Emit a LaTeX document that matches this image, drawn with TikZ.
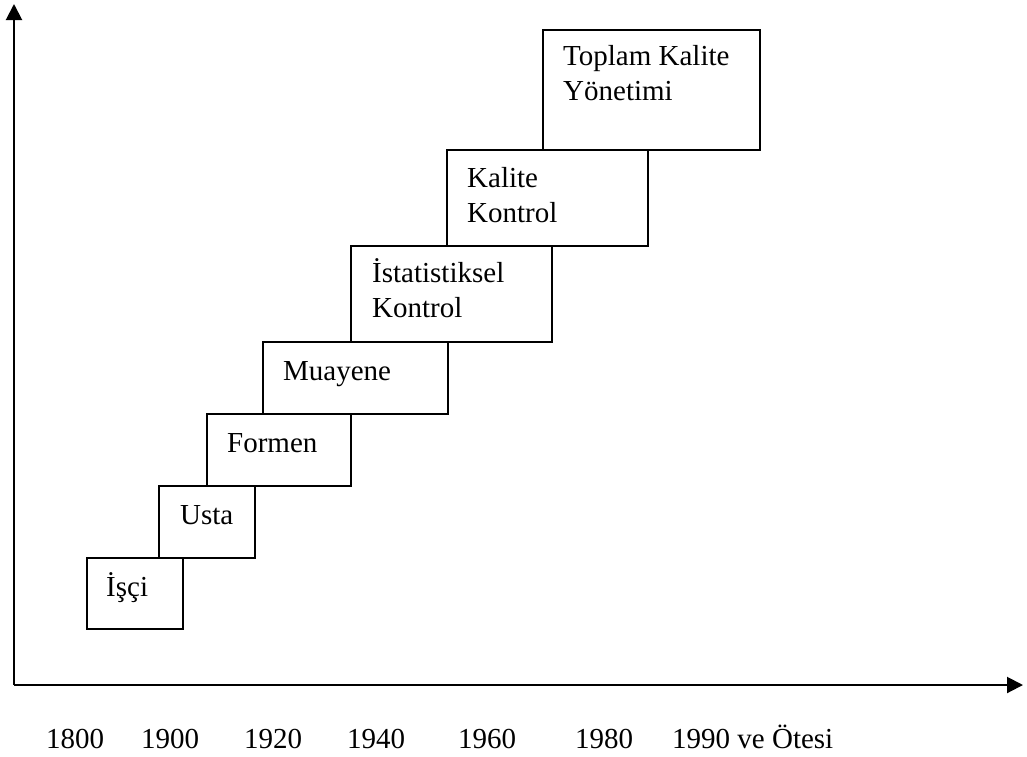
\documentclass[tikz,border=0pt]{standalone}
\usepackage{fontspec}
\setmainfont{Liberation Serif}
\usetikzlibrary{arrows.meta}
\begin{document}
\begin{tikzpicture}[x=1pt,y=-1pt,
  box/.style={draw, line width=2pt, rectangle, anchor=north west, inner sep=0pt},
  lbl/.style={anchor=base west, inner sep=0pt, align=left,
              font=\fontsize{29}{35}\selectfont},
  axis/.style={line width=2pt, -{Triangle[length=16pt,width=16pt]}}]
\useasboundingbox (0,0) rectangle (1027,756);

% axes
\coordinate (O) at (14,685);
\coordinate (ytop) at (14,4);
\coordinate (xend) at (1023,685);
\draw[axis] (O) -- (ytop);
\draw[axis] (O) -- (xend);

% stair of boxes
\node[box, minimum width=96pt,  minimum height=71pt]  (b1) at (86,557)  {};
\node[box, minimum width=96pt,  minimum height=72pt]  (b2) at (158,485) {};
\node[box, minimum width=144pt, minimum height=72pt]  (b3) at (206,413) {};
\node[box, minimum width=185pt, minimum height=72pt]  (b4) at (262,341) {};
\node[box, minimum width=201pt, minimum height=96pt]  (b5) at (350,245) {};
\node[box, minimum width=201pt, minimum height=96pt]  (b6) at (446,149) {};
\node[box, minimum width=217pt, minimum height=120pt] (b7) at (542,29)  {};

% box texts (base anchor of a two-line text sits on its last line)
\node[lbl] (t1) at (106,596) {İşçi};
\node[lbl] (t2) at (180,524) {Usta};
\node[lbl] (t3) at (227,452) {Formen};
\node[lbl] (t4) at (283,380) {Muayene};
\node[lbl] (t5) at (372,317) {İstatistiksel\\Kontrol};
\node[lbl] (t6) at (467,222) {Kalite\\Kontrol};
\node[lbl] (t7) at (563,100) {Toplam Kalite\\Yönetimi};

% time labels
\node[lbl] (y1) at (46,748)  {1800};
\node[lbl] (y2) at (141,748) {1900};
\node[lbl] (y3) at (244,748) {1920};
\node[lbl] (y4) at (347,748) {1940};
\node[lbl] (y5) at (458,748) {1960};
\node[lbl] (y6) at (575,748) {1980};
\node[lbl] (y7) at (672,748) {1990 ve Ötesi};
\end{tikzpicture}
\end{document}
